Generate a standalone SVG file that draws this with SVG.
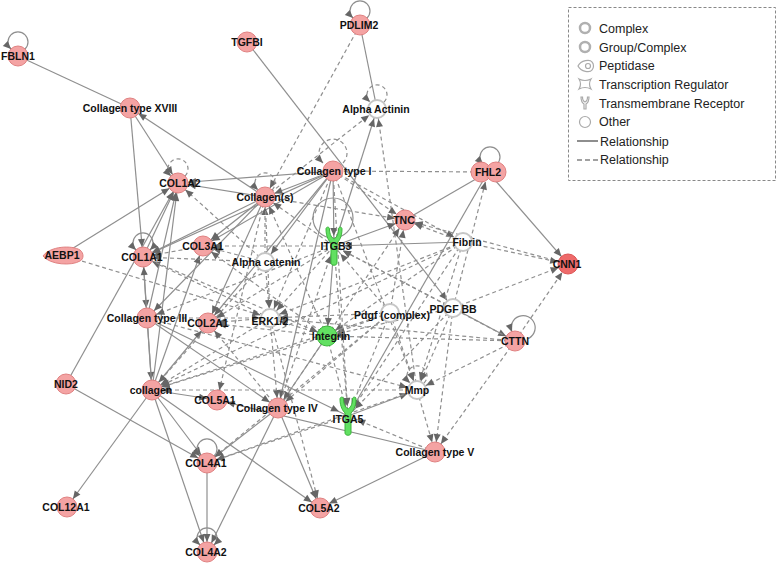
<svg xmlns="http://www.w3.org/2000/svg" width="778" height="564" viewBox="0 0 778 564">
<style>
.s{stroke:#8f8f8f;stroke-width:1.2;fill:none}
.d{stroke:#8f8f8f;stroke-width:1.2;fill:none;stroke-dasharray:4 3}
.a{marker-end:url(#ar)}
.l{marker-end:url(#al)}
.b{marker-start:url(#al);marker-end:url(#al)}
.r{fill:#f4a3a3;stroke:#e08181;stroke-width:1}
.w{fill:#fff;stroke:#c6c6c6;stroke-width:2}
.g{fill:#62e062;stroke:#3bb53b;stroke-width:1}
.lb{font:bold 10.5px "Liberation Sans",Arial,sans-serif;fill:#111;text-anchor:middle}
.lg{font:12.5px "Liberation Sans",Arial,sans-serif;fill:#222}
.ic{fill:none;stroke:#aaa;stroke-width:1.2}
</style>
<defs>
<marker id="ar" viewBox="0 0 20 10" refX="20" refY="5" markerWidth="20" markerHeight="10" markerUnits="userSpaceOnUse" orient="auto"><path d="M2,1.5 L10,5 L2,8.5 Z" fill="#666"/></marker>
<marker id="al" viewBox="0 0 10 10" refX="9" refY="5" markerWidth="10" markerHeight="10" markerUnits="userSpaceOnUse" orient="auto-start-reverse"><path d="M1,1.5 L9,5 L1,8.5 Z" fill="#666"/></marker>
<path id="yr" d="M-8,-17 C-8,-9 -5,-5 -3,-3 L-3,17 C-3,20 3,20 3,17 L3,-3 C5,-5 8,-9 8,-17 C8,-19.5 4.5,-19.5 4.5,-17 C4.5,-11 2,-8 0,-7 C-2,-8 -4.5,-11 -4.5,-17 C-4.5,-19.5 -8,-19.5 -8,-17 Z"/>
</defs>
<rect width="778" height="564" fill="#fff"/>
<g id="edges">
<line class="s" x1="18" y1="56" x2="130" y2="108"/>
<line class="s a" x1="130" y1="108" x2="178" y2="183"/>
<line class="s a" x1="130" y1="108" x2="143" y2="257"/>
<line class="s a" x1="265" y1="197" x2="130" y2="108"/>
<line class="s a" x1="247" y1="42" x2="453" y2="308"/>
<line class="s" x1="360" y1="25" x2="377" y2="109"/>
<line class="s a" x1="62" y1="255" x2="178" y2="183"/>
<line class="s a" x1="66" y1="384" x2="178" y2="183"/>
<line class="s a" x1="143" y1="257" x2="178" y2="183"/>
<line class="s a" x1="152" y1="390" x2="178" y2="183"/>
<line class="s a" x1="147" y1="318" x2="178" y2="183"/>
<line class="s a" x1="333" y1="171" x2="178" y2="183"/>
<line class="s a" x1="265" y1="197" x2="178" y2="183"/>
<line class="s a" x1="265" y1="197" x2="143" y2="257"/>
<line class="s a" x1="333" y1="171" x2="143" y2="257"/>
<line class="s a" x1="265" y1="197" x2="203" y2="246"/>
<line class="s a" x1="333" y1="171" x2="203" y2="246"/>
<line class="s a" x1="333" y1="171" x2="265" y2="197"/>
<line class="s a" x1="333" y1="171" x2="265" y2="262"/>
<line class="s a" x1="333" y1="171" x2="334" y2="246"/>
<line class="s a" x1="334" y1="246" x2="377" y2="109"/>
<line class="s" x1="488" y1="172" x2="405" y2="220"/>
<line class="s a" x1="488" y1="172" x2="568" y2="264"/>
<line class="s a" x1="334" y1="246" x2="405" y2="220"/>
<line class="s a" x1="463" y1="242" x2="334" y2="246"/>
<line class="s a" x1="334" y1="246" x2="327" y2="336"/>
<line class="s a" x1="453" y1="308" x2="515" y2="341"/>
<line class="s a" x1="348" y1="416" x2="417" y2="390"/>
<line class="s a" x1="435" y1="452" x2="320" y2="508"/>
<line class="s a" x1="435" y1="452" x2="217" y2="400"/>
<line class="s a" x1="278" y1="408" x2="207" y2="463"/>
<line class="s a" x1="278" y1="408" x2="207" y2="552"/>
<line class="s a" x1="278" y1="408" x2="320" y2="508"/>
<line class="s a" x1="207" y1="463" x2="207" y2="552"/>
<line class="s a" x1="66" y1="384" x2="207" y2="463"/>
<line class="s a" x1="152" y1="390" x2="67" y2="507"/>
<line class="s a" x1="152" y1="390" x2="207" y2="463"/>
<line class="s a" x1="152" y1="390" x2="207" y2="552"/>
<line class="s a" x1="152" y1="390" x2="320" y2="508"/>
<line class="s a" x1="152" y1="390" x2="208" y2="323"/>
<line class="s a" x1="152" y1="390" x2="217" y2="400"/>
<line class="s a" x1="147" y1="318" x2="152" y2="390"/>
<line class="s a" x1="143" y1="257" x2="147" y2="318"/>
<line class="s a" x1="265" y1="197" x2="147" y2="318"/>
<line class="s a" x1="333" y1="171" x2="208" y2="323"/>
<line class="s a" x1="265" y1="197" x2="208" y2="323"/>
<line class="s a" x1="152" y1="390" x2="203" y2="246"/>
<line class="s a" x1="152" y1="390" x2="143" y2="257"/>
<line class="s a" x1="488" y1="172" x2="348" y2="416"/>
<line class="s a" x1="333" y1="171" x2="278" y2="408"/>
<line class="s a" x1="327" y1="336" x2="278" y2="408"/>
<line class="s a" x1="147" y1="318" x2="278" y2="408"/>
<line class="s a" x1="147" y1="318" x2="348" y2="416"/>
<line class="d a" x1="360" y1="25" x2="265" y2="197"/>
<line class="d a" x1="265" y1="197" x2="377" y2="109"/>
<line class="d a" x1="417" y1="390" x2="377" y2="109"/>
<line class="d a" x1="265" y1="262" x2="178" y2="183"/>
<line class="d a" x1="203" y1="246" x2="143" y2="257"/>
<line class="d a" x1="265" y1="262" x2="143" y2="257"/>
<line class="d a" x1="270" y1="318" x2="143" y2="257"/>
<line class="d a" x1="62" y1="255" x2="270" y2="318"/>
<line class="d a" x1="265" y1="262" x2="203" y2="246"/>
<line class="d a" x1="334" y1="246" x2="203" y2="246"/>
<line class="d a" x1="327" y1="336" x2="203" y2="246"/>
<line class="d a" x1="265" y1="262" x2="265" y2="197"/>
<line class="d a" x1="334" y1="246" x2="265" y2="197"/>
<line class="d a" x1="327" y1="336" x2="265" y2="197"/>
<line class="d a" x1="265" y1="197" x2="405" y2="220"/>
<line class="d a" x1="333" y1="171" x2="405" y2="220"/>
<line class="d" x1="488" y1="172" x2="333" y2="171"/>
<line class="d a" x1="333" y1="171" x2="463" y2="242"/>
<line class="d a" x1="568" y1="264" x2="405" y2="220"/>
<line class="d a" x1="463" y1="242" x2="568" y2="264"/>
<line class="d a" x1="453" y1="308" x2="568" y2="264"/>
<line class="d a" x1="515" y1="341" x2="568" y2="264"/>
<line class="d a" x1="453" y1="308" x2="488" y2="172"/>
<line class="d a" x1="390" y1="313" x2="334" y2="246"/>
<line class="d a" x1="453" y1="308" x2="334" y2="246"/>
<line class="d a" x1="515" y1="341" x2="334" y2="246"/>
<line class="d a" x1="278" y1="408" x2="334" y2="246"/>
<line class="d a" x1="463" y1="242" x2="327" y2="336"/>
<line class="d a" x1="463" y1="242" x2="270" y2="318"/>
<line class="d a" x1="453" y1="308" x2="327" y2="336"/>
<line class="d a" x1="453" y1="308" x2="417" y2="390"/>
<line class="d a" x1="453" y1="308" x2="348" y2="416"/>
<line class="d a" x1="453" y1="308" x2="435" y2="452"/>
<line class="d a" x1="390" y1="313" x2="417" y2="390"/>
<line class="d a" x1="390" y1="313" x2="327" y2="336"/>
<line class="d a" x1="390" y1="313" x2="270" y2="318"/>
<line class="d a" x1="390" y1="313" x2="278" y2="408"/>
<line class="d a" x1="515" y1="341" x2="417" y2="390"/>
<line class="d a" x1="515" y1="341" x2="327" y2="336"/>
<line class="d a" x1="515" y1="341" x2="270" y2="318"/>
<line class="d a" x1="515" y1="341" x2="435" y2="452"/>
<line class="d a" x1="327" y1="336" x2="270" y2="318"/>
<line class="d a" x1="333" y1="171" x2="270" y2="318"/>
<line class="d a" x1="265" y1="197" x2="270" y2="318"/>
<line class="d a" x1="334" y1="246" x2="270" y2="318"/>
<line class="d a" x1="270" y1="318" x2="208" y2="323"/>
<line class="d a" x1="270" y1="318" x2="278" y2="408"/>
<line class="d a" x1="327" y1="336" x2="278" y2="408"/>
<line class="d a" x1="417" y1="390" x2="435" y2="452"/>
<line class="d a" x1="270" y1="318" x2="320" y2="508"/>
<line class="d a" x1="435" y1="452" x2="348" y2="416"/>
<line class="d a" x1="327" y1="336" x2="348" y2="416"/>
<line class="d a" x1="334" y1="246" x2="348" y2="416"/>
<line class="d a" x1="333" y1="171" x2="348" y2="416"/>
<line class="d a" x1="390" y1="313" x2="348" y2="416"/>
<line class="d a" x1="390" y1="313" x2="207" y2="463"/>
<line class="d a" x1="417" y1="390" x2="207" y2="463"/>
<line class="d a" x1="348" y1="416" x2="207" y2="463"/>
<line class="d a" x1="270" y1="318" x2="152" y2="390"/>
<line class="d a" x1="327" y1="336" x2="152" y2="390"/>
<line class="d a" x1="390" y1="313" x2="152" y2="390"/>
<line class="d a" x1="463" y1="242" x2="152" y2="390"/>
<line class="d a" x1="265" y1="197" x2="217" y2="400"/>
<line class="d a" x1="147" y1="318" x2="417" y2="390"/>
<line class="d a" x1="147" y1="318" x2="270" y2="318"/>
<line class="d a" x1="265" y1="262" x2="270" y2="318"/>
<line class="d a" x1="463" y1="242" x2="405" y2="220"/>
<line class="d a" x1="390" y1="313" x2="405" y2="220"/>
<line class="d a" x1="327" y1="336" x2="405" y2="220"/>
<line class="d a" x1="463" y1="242" x2="348" y2="416"/>
<line class="d a" x1="463" y1="242" x2="417" y2="390"/>
<line class="d a" x1="333" y1="171" x2="417" y2="390"/>
<line class="d a" x1="265" y1="262" x2="152" y2="390"/>
<line class="d a" x1="334" y1="246" x2="147" y2="318"/>
<line class="d a" x1="278" y1="408" x2="208" y2="323"/>
<line class="d a" x1="327" y1="336" x2="208" y2="323"/>
<line class="d a" x1="334" y1="246" x2="208" y2="323"/>
<line class="d a" x1="143" y1="257" x2="327" y2="336"/>
<line class="d a" x1="417" y1="390" x2="152" y2="390"/>
<path class="s l" d="M25,49 A10 10 0 1 0 11,49"/>
<path class="s l" d="M367,18 A10 10 0 1 0 353,18"/>
<path class="d l" d="M384,102 A10 10 0 1 0 370,102"/>
<path class="d l" d="M185,176 A10 10 0 1 0 171,176"/>
<path class="s b" d="M150,250 A10 10 0 1 0 136,250"/>
<path class="d l" d="M272,190 A10 10 0 1 0 258,190"/>
<path class="d l" d="M343,163 A14 14 0 1 0 323,163"/>
<path class="s l" d="M497,164 A10 10 0 1 0 483,164"/>
<path class="s l" d="M527,339 A12 12 0 1 0 512,332"/>
<path class="d l" d="M424,383 A10 10 0 1 0 410,383"/>
<path class="s l" d="M214,456 A10 10 0 1 0 200,456"/>
<path class="s b" d="M214,545 A10 10 0 1 0 200,545"/>
<circle class="s" cx="333" cy="218" r="20"/>
</g>
<g id="n-FBLN1"><circle class="r" cx="18" cy="56" r="10"/><text class="lb" x="18" y="60">FBLN1</text></g>
<g id="n-TGFBI"><circle class="r" cx="247" cy="42" r="10"/><text class="lb" x="247" y="46">TGFBI</text></g>
<g id="n-PDLIM2"><circle class="r" cx="360" cy="25" r="10"/><text class="lb" x="359" y="29">PDLIM2</text></g>
<g id="n-CollagenXVIII"><circle class="r" cx="130" cy="108" r="10"/><text class="lb" x="130" y="112">Collagen type XVIII</text></g>
<g id="n-AlphaActinin"><circle class="w" cx="377" cy="109" r="9"/><text class="lb" x="376" y="113">Alpha Actinin</text></g>
<g id="n-COL1A2"><circle class="r" cx="178" cy="183" r="10"/><text class="lb" x="180" y="187">COL1A2</text></g>
<g id="n-Collagens"><circle class="r" cx="265" cy="197" r="10"/><text class="lb" x="265" y="201">Collagen(s)</text></g>
<g id="n-CollagenI"><circle class="r" cx="333" cy="171" r="10"/><text class="lb" x="334" y="175">Collagen type I</text></g>
<g id="n-FHL2"><circle class="r" cx="481" cy="172" r="10"/><circle class="r" cx="496" cy="172" r="10"/><text class="lb" x="488" y="176">FHL2</text></g>
<g id="n-TNC"><circle class="r" cx="405" cy="220" r="10"/><text class="lb" x="404" y="224">TNC</text></g>
<g id="n-ITGB3"><use href="#yr" class="g" transform="translate(334,246)"/><text class="lb" x="336" y="250">ITGB3</text></g>
<g id="n-Fibrin"><circle class="w" cx="463" cy="242" r="9"/><text class="lb" x="467" y="246">Fibrin</text></g>
<g id="n-AlphaCatenin"><circle class="w" cx="265" cy="262" r="9"/><text class="lb" x="266" y="266">Alpha catenin</text></g>
<g id="n-AEBP1"><path class="r" d="M43,256 C50,246 72,245 80,250 C84,253 84,259 80,261 C72,266 50,265 43,256 Z"/><text class="lb" x="62" y="259">AEBP1</text></g>
<g id="n-COL1A1"><circle class="r" cx="143" cy="257" r="10"/><text class="lb" x="142" y="261">COL1A1</text></g>
<g id="n-COL3A1"><circle class="r" cx="203" cy="246" r="10"/><text class="lb" x="203" y="250">COL3A1</text></g>
<g id="n-CNN1"><circle cx="568" cy="264" r="10" fill="#ee6a6a" stroke="#dd5555"/><text class="lb" x="567" y="268">CNN1</text></g>
<g id="n-CollagenIII"><circle class="r" cx="147" cy="318" r="10"/><text class="lb" x="147" y="322">Collagen type III</text></g>
<g id="n-COL2A1"><circle class="r" cx="208" cy="323" r="10"/><text class="lb" x="208" y="327">COL2A1</text></g>
<g id="n-ERK12"><circle class="w" cx="270" cy="318" r="9"/><text class="lb" x="270" y="325">ERK1/2</text></g>
<g id="n-Integrin"><circle class="g" cx="327" cy="336" r="10"/><text class="lb" x="331" y="340">Integrin</text></g>
<g id="n-Pdgf"><circle class="w" cx="390" cy="313" r="9"/><text class="lb" x="392" y="319">Pdgf (complex)</text></g>
<g id="n-PDGFBB"><circle class="w" cx="453" cy="308" r="9"/><text class="lb" x="453" y="313">PDGF BB</text></g>
<g id="n-CTTN"><circle class="r" cx="515" cy="341" r="10"/><text class="lb" x="515" y="345">CTTN</text></g>
<g id="n-NID2"><circle class="r" cx="66" cy="384" r="10"/><text class="lb" x="66" y="388">NID2</text></g>
<g id="n-collagen"><circle class="r" cx="152" cy="390" r="10"/><text class="lb" x="151" y="394">collagen</text></g>
<g id="n-COL5A1"><circle class="r" cx="217" cy="400" r="10"/><text class="lb" x="215" y="404">COL5A1</text></g>
<g id="n-CollagenIV"><circle class="r" cx="278" cy="408" r="10"/><text class="lb" x="277" y="412">Collagen type IV</text></g>
<g id="n-Mmp"><circle class="w" cx="417" cy="390" r="9"/><text class="lb" x="417" y="394">Mmp</text></g>
<g id="n-ITGA5"><use href="#yr" class="g" transform="translate(348,416)"/><text class="lb" x="348" y="423">ITGA5</text></g>
<g id="n-CollagenV"><circle class="r" cx="435" cy="452" r="10"/><text class="lb" x="435" y="456">Collagen type V</text></g>
<g id="n-COL4A1"><circle class="r" cx="207" cy="463" r="10"/><text class="lb" x="206" y="467">COL4A1</text></g>
<g id="n-COL12A1"><circle class="r" cx="67" cy="507" r="10"/><text class="lb" x="66" y="511">COL12A1</text></g>
<g id="n-COL5A2"><circle class="r" cx="320" cy="508" r="10"/><text class="lb" x="319" y="512">COL5A2</text></g>
<g id="n-COL4A2"><circle class="r" cx="207" cy="552" r="10"/><text class="lb" x="206" y="556">COL4A2</text></g>
<g id="legend">
<rect x="568.5" y="7.5" width="207" height="173" fill="#fff" stroke="#888" stroke-width="1" stroke-dasharray="3 2"/>
<circle cx="585" cy="28" r="5" fill="#fff" stroke="#b0b0b0" stroke-width="2.5"/>
<circle cx="585" cy="47" r="5" fill="#fff" stroke="#b0b0b0" stroke-width="2.5"/>
<path class="ic" d="M578,66 C581,60 590,59 592,62 C594,64 594,68 592,70 C590,73 581,72 578,66 Z"/><circle class="ic" cx="588" cy="66" r="2.5"/>
<path class="ic" d="M579,79 Q585,82 591,79 Q588,84 591,89 Q585,86 579,89 Q582,84 579,79 Z"/>
<path class="ic" d="M581,97 Q581,102 584,104 L584,109 L586,109 L586,104 Q589,102 589,97 L587.5,97 Q587.5,101 585,102 Q582.5,101 582.5,97 Z"/>
<circle class="ic" cx="585" cy="122" r="5.5"/>
<line x1="577" y1="141" x2="598" y2="141" stroke="#444" stroke-width="1.2"/>
<line x1="577" y1="160" x2="598" y2="160" stroke="#444" stroke-width="1.2" stroke-dasharray="5 3"/>
<text class="lg" x="599" y="33">Complex</text>
<text class="lg" x="599" y="51.5">Group/Complex</text>
<text class="lg" x="599" y="70">Peptidase</text>
<text class="lg" x="599" y="89">Transcription Regulator</text>
<text class="lg" x="599" y="108">Transmembrane Receptor</text>
<text class="lg" x="599" y="126">Other</text>
<text class="lg" x="600" y="145.5">Relationship</text>
<text class="lg" x="600" y="164">Relationship</text>
</g>
</svg>
